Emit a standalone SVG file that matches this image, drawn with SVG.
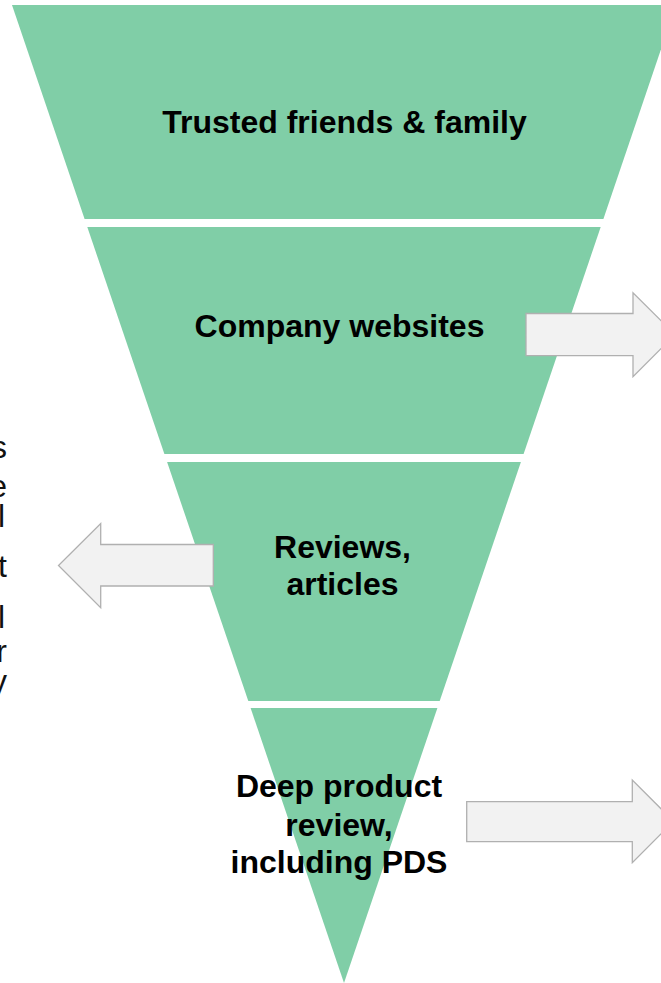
<svg xmlns="http://www.w3.org/2000/svg" width="661" height="983" viewBox="0 0 661 983">
<style>
.seg{fill:#80cea7;stroke:none}
.lbl{font-family:"Liberation Sans",Arial,sans-serif;font-weight:bold;font-size:32px;fill:#000;text-anchor:middle}
.side{font-family:"Liberation Sans",Arial,sans-serif;font-size:32px;fill:#111;text-anchor:end}
.arrow{fill:#f2f2f2;stroke:#b0b0b0;stroke-width:1.3}
</style>
<rect width="661" height="983" fill="#ffffff"/>
<g id="side-text">
<text class="side" x="7" y="458">s</text>
<text class="side" x="7" y="497">e</text>
<text class="side" x="5" y="527">l</text>
<text class="side" x="7" y="577">t</text>
<text class="side" x="5" y="628">l</text>
<text class="side" x="7" y="662">r</text>
<text class="side" x="7" y="692">y</text>
</g>
<g id="seg1">
<polygon class="seg" points="12,5 676,5 603.4,219 84.6,219"/>
<text class="lbl" x="344.5" y="133">Trusted friends &amp; family</text>
</g>
<g id="seg2">
<polygon class="seg" points="87.3,227 600.7,227 523.6,454 164.4,454"/>
<text class="lbl" x="339.5" y="337">Company websites</text>
</g>
<g id="seg3">
<polygon class="seg" points="167.1,462 520.9,462 439.7,701 248.3,701"/>
<text class="lbl" x="342.5" y="558">Reviews,</text>
<text class="lbl" x="342.5" y="595">articles</text>
</g>
<g id="seg4">
<polygon class="seg" points="250.6,708 437.4,708 344,983"/>
<text class="lbl" x="339" y="797">Deep product</text>
<text class="lbl" x="339" y="836">review,</text>
<text class="lbl" x="339" y="873">including PDS</text>
</g>
<g id="connectors">
<polygon class="arrow" points="526,313.5 633,313.5 633,292.7 675,334.7 633,376.7 633,355.7 526,355.7"/>
<polygon class="arrow" points="213.3,544.5 100.7,544.5 100.7,523.5 58.5,565.5 100.7,607.7 100.7,586 213.3,586"/>
<polygon class="arrow" points="466.7,801.7 632.3,801.7 632.3,780 673.5,821.3 632.3,862.7 632.3,841.7 466.7,841.7"/>
</g>
</svg>
